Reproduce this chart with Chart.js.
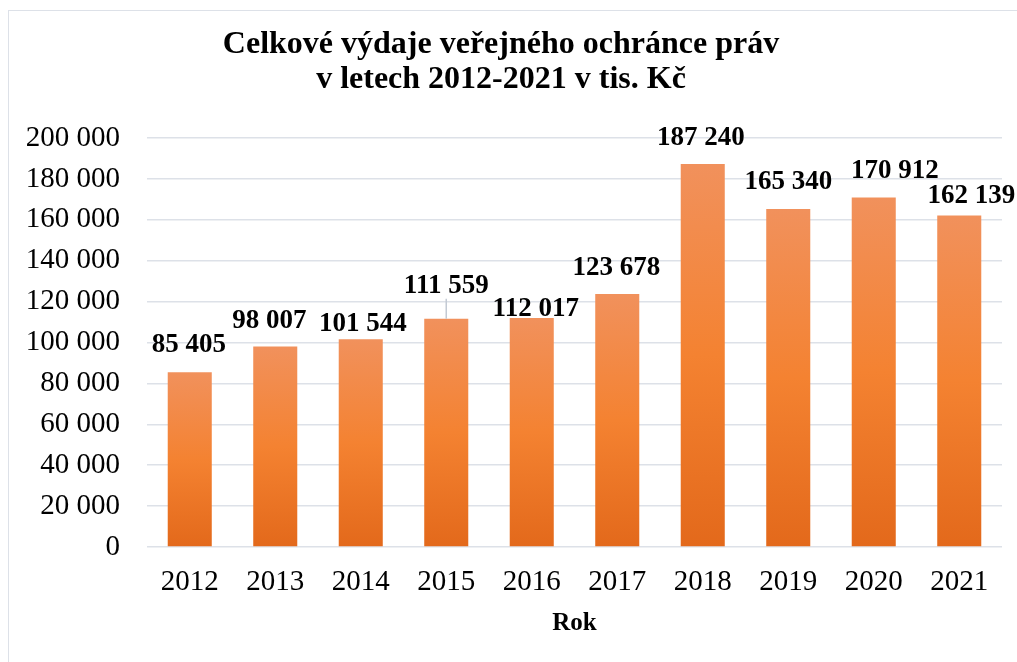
<!DOCTYPE html>
<html>
<head>
<meta charset="utf-8">
<script src="https://cdn.jsdelivr.net/npm/chart.js@4"></script>
<style>
  html, body { margin: 0; padding: 0; background: #ffffff; }
  #wrap { position: relative; width: 1017px; height: 662px; overflow: hidden; }
  #frame { position: absolute; left: 8px; top: 10px; width: 1100px; height: 700px; border: 1.5px solid #dde1e8; box-sizing: border-box; }
  canvas { position: absolute; left: 0; top: 0; }
</style>
</head>
<body>
<div id="wrap">
  <div id="frame"></div>
  <canvas id="c" width="1017" height="662"></canvas>
</div>
<script>
const categories = ['2012', '2013', '2014', '2015', '2016', '2017', '2018', '2019', '2020', '2021'];
const expenses = [85405, 98007, 101544, 111559, 112017, 123678, 187240, 165340, 170912, 162139];
const titleLines = ['Celkové výdaje veřejného ochránce práv', 'v letech 2012-2021 v tis. Kč'];
const xTitle = 'Rok';

const SERIF = '"Liberation Serif", "Times New Roman", serif';

function fmt(v) {
  return String(v).replace(/\B(?=(\d{3})+(?!\d))/g, ' ');
}

// label placement tweaks (as in the reference, labels were moved by hand)
const labelShift = [
  {dx: -1, dy: -27}, {dx: -6, dy: -26}, {dx: 2, dy: -15}, {dx: 0, dy: -33, leader: true},
  {dx: 4, dy: -9}, {dx: -1, dy: -26}, {dx: -2, dy: -26.5}, {dx: 0, dy: -26.5},
  {dx: 21, dy: -26.5}, {dx: 12, dy: -19}
];

const valueLabels = {
  id: 'valueLabels',
  afterDatasetsDraw(chart) {
    const ctx = chart.ctx;
    const meta = chart.getDatasetMeta(0);
    ctx.save();
    ctx.font = 'bold 27px ' + SERIF;
    ctx.fillStyle = '#000000';
    ctx.textAlign = 'center';
    ctx.textBaseline = 'middle';
    meta.data.forEach((bar, i) => {
      const s = labelShift[i] || {dx: 0, dy: -26};
      const x = bar.x + s.dx;
      const y = bar.y + s.dy;
      if (s.leader) {
        ctx.strokeStyle = '#c3cad4';
        ctx.lineWidth = 1.5;
        ctx.beginPath();
        ctx.moveTo(bar.x, y + 13);
        ctx.lineTo(bar.x, bar.y);
        ctx.stroke();
      }
      ctx.fillText(fmt(chart.data.datasets[0].data[i]), x, y);
    });
    ctx.restore();
  }
};

function barGradient(c) {
  const chart = c.chart;
  if (!chart.chartArea || c.raw === undefined) return '#F38230';
  const ys = chart.scales.y;
  const top = ys.getPixelForValue(c.raw);
  const bottom = ys.getPixelForValue(0);
  const g = chart.ctx.createLinearGradient(0, top, 0, bottom);
  g.addColorStop(0, '#F1915C');
  g.addColorStop(0.5, '#F48231');
  g.addColorStop(1, '#E3691B');
  return g;
}

new Chart(document.getElementById('c'), {
  type: 'bar',
  data: {
    labels: categories,
    datasets: [{
      data: expenses,
      backgroundColor: barGradient,
      borderWidth: 0,
      barPercentage: 0.515,
      categoryPercentage: 1.0
    }]
  },
  plugins: [valueLabels],
  options: {
    responsive: false,
    animation: false,
    devicePixelRatio: 1,
    layout: { padding: { left: 0, right: 15, top: 0, bottom: 0 } },
    plugins: {
      legend: { display: false },
      tooltip: { enabled: false },
      title: {
        display: true,
        text: titleLines,
        color: '#000000',
        font: { family: SERIF, size: 32, weight: 'bold', lineHeight: 1.1 },
        padding: { top: 27, bottom: 40.6 }
      }
    },
    scales: {
      x: {
        grid: { display: false, drawTicks: false },
        border: { display: false },
        ticks: {
          color: '#000000',
          font: { family: SERIF, size: 29 },
          padding: 18,
          maxRotation: 0,
          autoSkip: false
        },
        title: {
          display: true,
          text: xTitle,
          color: '#000000',
          font: { family: SERIF, size: 25, weight: 'bold', lineHeight: 1.2 },
          padding: { top: 0, bottom: 23 }
        },
        afterFit(scale) { scale.height = 115; }
      },
      y: {
        min: 0,
        max: 200000,
        grid: { color: '#dde1e8', lineWidth: 1.5, drawTicks: false },
        border: { display: false },
        ticks: {
          stepSize: 20000,
          color: '#000000',
          font: { family: SERIF, size: 29 },
          padding: 27,
          callback: (v) => fmt(v)
        },
        afterFit(scale) { scale.width = 147; }
      }
    }
  }
});
</script>
</body>
</html>
